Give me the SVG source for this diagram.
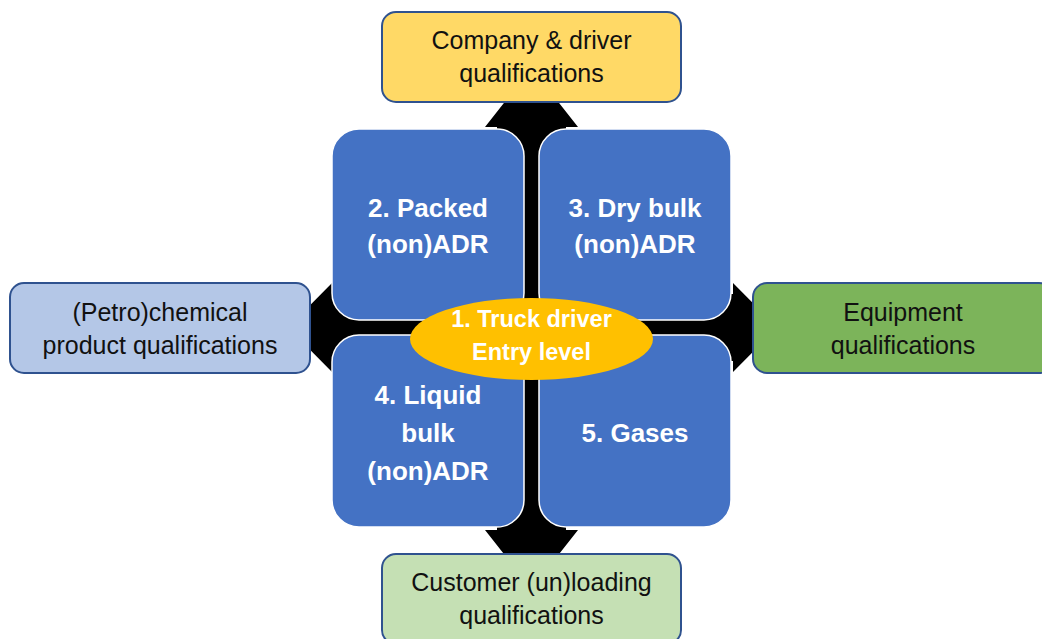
<svg xmlns="http://www.w3.org/2000/svg" width="1042" height="639" viewBox="0 0 1042 639">
  <style>
    .lbl { font-family: "Liberation Sans", Arial, sans-serif; font-size: 25px; fill: #111111; text-anchor: middle; }
    .blue { fill: #4472C4; stroke: #FFFFFF; stroke-width: 1.5; }
    .btxt { font-family: "Liberation Sans", Arial, sans-serif; font-size: 26px; font-weight: bold; fill: #FFFFFF; text-anchor: middle; }
    .etxt { font-family: "Liberation Sans", Arial, sans-serif; font-size: 23.5px; font-weight: bold; fill: #FFFFFF; text-anchor: middle; }
    .qbox { stroke: #2F528F; stroke-width: 2; }
  </style>
  <rect width="1042" height="639" fill="#FFFFFF"/>
  <g id="connectors">
    <path d="M531.5,68 L578,127 L566,127 L566,294 L733,294 L733,283 L777,327.5 L733,372 L733,361 L566,361 L566,530 L578,530 L531.5,589 L485,530 L497,530 L497,361 L332,361 L332,372 L288,327.5 L332,283 L332,294 L497,294 L497,127 L485,127 Z" fill="#000000"/>
  </g>
  <g id="node-packed">
    <rect class="blue" x="332" y="129" width="192" height="191" rx="27" ry="27"/>
    <text class="btxt" x="428" y="217">2. Packed</text>
    <text class="btxt" x="428" y="253">(non)ADR</text>
  </g>
  <g id="node-drybulk">
    <rect class="blue" x="539" y="129" width="192" height="191" rx="27" ry="27"/>
    <text class="btxt" x="635" y="217">3. Dry bulk</text>
    <text class="btxt" x="635" y="253">(non)ADR</text>
  </g>
  <g id="node-liquid">
    <rect class="blue" x="332" y="335" width="192" height="192" rx="27" ry="27"/>
    <text class="btxt" x="428" y="404">4. Liquid</text>
    <text class="btxt" x="428" y="442">bulk</text>
    <text class="btxt" x="428" y="480">(non)ADR</text>
  </g>
  <g id="node-gases">
    <rect class="blue" x="539" y="335" width="192" height="192" rx="27" ry="27"/>
    <text class="btxt" x="635" y="442">5. Gases</text>
  </g>
  <g id="node-center">
    <ellipse cx="531.5" cy="339" rx="121.5" ry="41" fill="#FFC000"/>
    <text class="etxt" x="531.5" y="327">1. Truck driver</text>
    <text class="etxt" x="531.5" y="360">Entry level</text>
  </g>
  <g id="node-company">
    <rect class="qbox" x="382" y="12" width="299" height="90" rx="14" ry="14" fill="#FFD966"/>
    <text class="lbl" x="531.5" y="49">Company &amp; driver</text>
    <text class="lbl" x="531.5" y="82">qualifications</text>
  </g>
  <g id="node-chemical">
    <rect class="qbox" x="10" y="283" width="300" height="90" rx="14" ry="14" fill="#B4C7E7"/>
    <text class="lbl" x="160" y="321">(Petro)chemical</text>
    <text class="lbl" x="160" y="354">product qualifications</text>
  </g>
  <g id="node-equipment">
    <rect class="qbox" x="753" y="283" width="300" height="90" rx="14" ry="14" fill="#7CB45A"/>
    <text class="lbl" x="903" y="321">Equipment</text>
    <text class="lbl" x="903" y="354">qualifications</text>
  </g>
  <g id="node-customer">
    <rect class="qbox" x="382" y="554" width="299" height="90" rx="14" ry="14" fill="#C5E0B4"/>
    <text class="lbl" x="531.5" y="591">Customer (un)loading</text>
    <text class="lbl" x="531.5" y="624">qualifications</text>
  </g>
</svg>
